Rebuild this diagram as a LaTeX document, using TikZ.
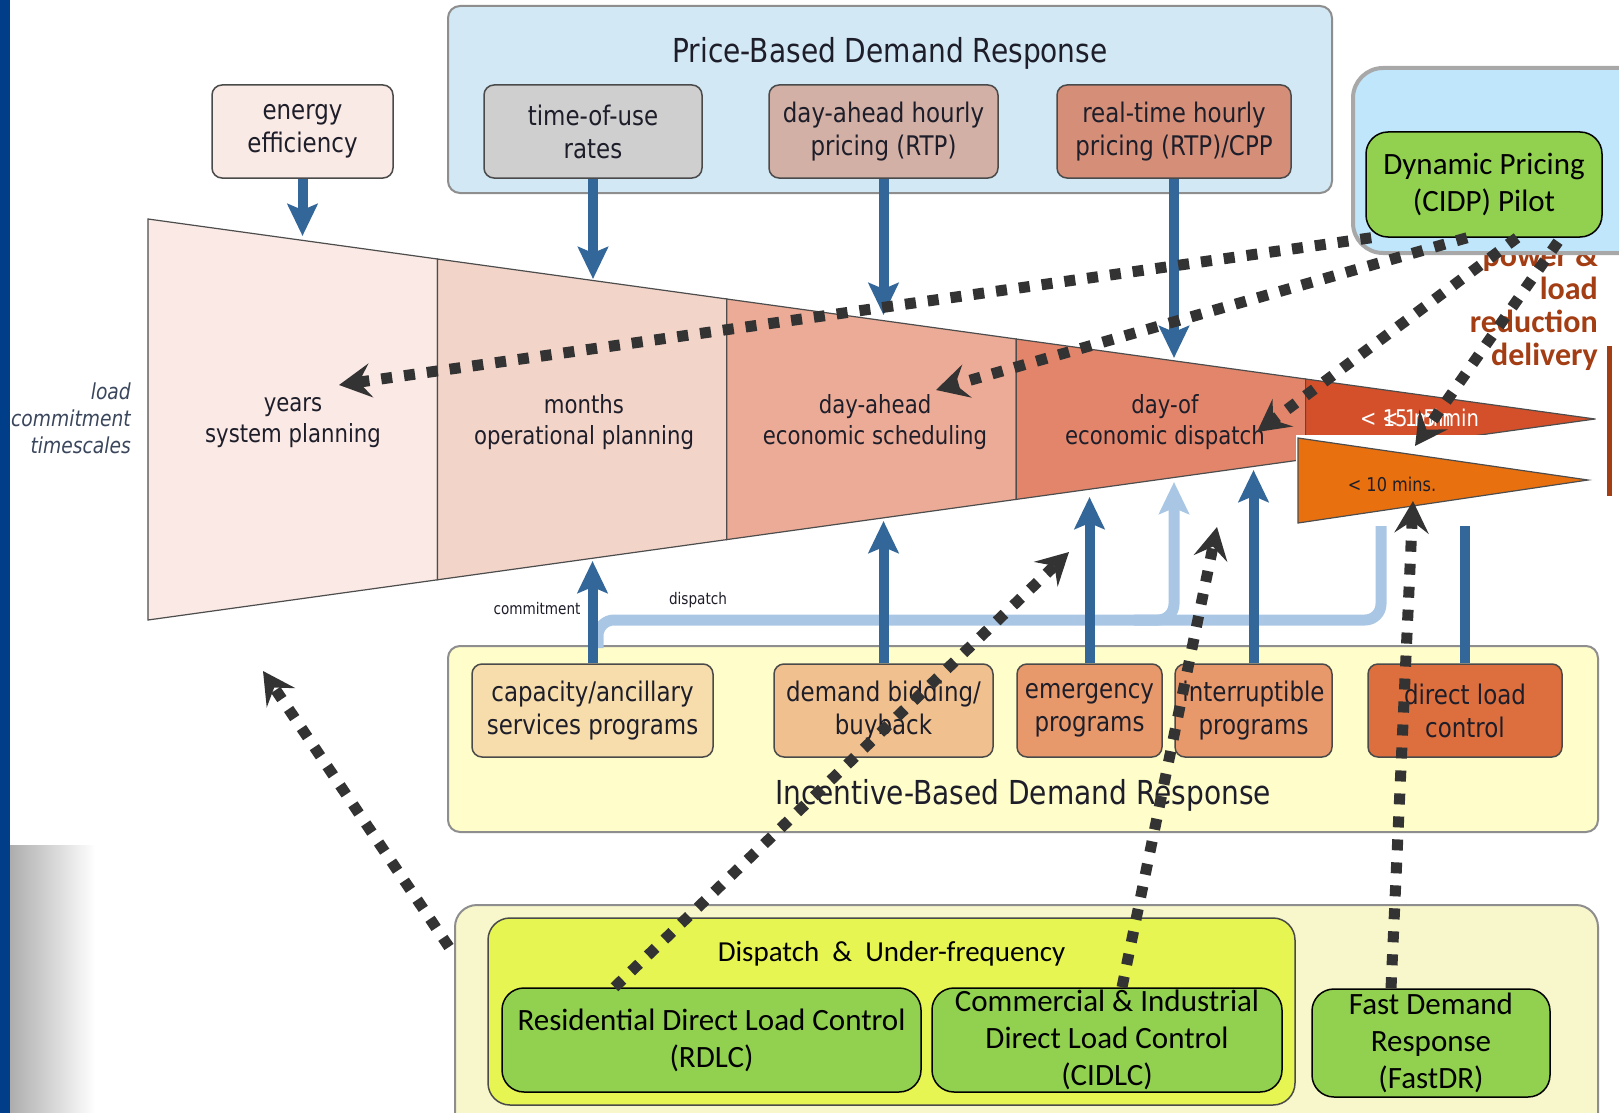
\documentclass[tikz,border=0pt]{standalone}
\usepackage{fontspec}
\setmainfont{DejaVu Sans}
\newfontfamily\tahoma[FakeStretch=0.85]{DejaVu Sans}
\newfontfamily\calib{Carlito}
\usepackage{tikz}
\usetikzlibrary{arrows.meta,positioning,calc}
\definecolor{slideblue}{HTML}{003E8A}
\definecolor{skyfill}{HTML}{D2E8F4}
\definecolor{panelline}{HTML}{8E8E8E}
\definecolor{boxline}{HTML}{4A4A4A}
\definecolor{inkdark}{HTML}{1E1E2A}
\definecolor{pinkpale}{HTML}{FAEAE5}
\definecolor{greybox}{HTML}{CFCFCF}
\definecolor{dustypink}{HTML}{D3B0A6}
\definecolor{terracotta}{HTML}{D58F79}
\definecolor{stageA}{HTML}{FAE9E4}
\definecolor{stageB}{HTML}{F3D4C9}
\definecolor{stageC}{HTML}{ECAB97}
\definecolor{stageD}{HTML}{E2856A}
\definecolor{stageE}{HTML}{D4502A}
\definecolor{flame}{HTML}{E9700F}
\definecolor{edgegrey}{HTML}{4D4D4D}
\definecolor{steelblue}{HTML}{336699}
\definecolor{paleblue}{HTML}{A9C7E5}
\definecolor{darkdot}{HTML}{333333}
\definecolor{rust}{HTML}{A33D14}
\definecolor{slate}{HTML}{3A465C}
\definecolor{dpfill}{HTML}{BFE6FB}
\definecolor{dpline}{HTML}{A8A8A8}
\definecolor{leafgreen}{HTML}{92D050}
\definecolor{creamfill}{HTML}{FFFDC9}
\definecolor{lemonpale}{HTML}{F8F7CC}
\definecolor{chartreuse}{HTML}{E6F552}
\definecolor{tanbox}{HTML}{F6DDAB}
\definecolor{apricot}{HTML}{F0C18E}
\definecolor{coral}{HTML}{E8996B}
\definecolor{burnt}{HTML}{DC6F3D}
\tikzstyle{feed} = [draw=steelblue, line width=10pt, -{Stealth[length=32pt,width=30pt,inset=6pt]}]
\tikzstyle{link} = [draw=darkdot, line width=11pt, dash pattern=on 11pt off 12pt, -{Stealth[length=32pt,width=34pt,inset=12pt]}]

\begin{document}
\begin{tikzpicture}
  [
    x=1pt, y=-1pt,
    every node/.style={inner sep=0pt, text=inkdark},
    panel/.style={draw=panelline, line width=2pt, rounded corners=12pt},
    prog/.style={draw=boxline, line width=1.5pt, rounded corners=10pt, minimum height=93pt, align=center, font=\tahoma\fontsize{27}{33}\selectfont},
    green box/.style={draw=black, line width=1.5pt, fill=leafgreen, rounded corners=22pt, align=center, text=black, font=\calib\fontsize{31}{37}\selectfont},
    stage/.style={align=center, font=\tahoma\fontsize{25}{31}\selectfont},
    headline/.style={font=\tahoma\fontsize{33}{38}\selectfont},
    dispatchline/.style={draw=paleblue, line width=11pt, rounded corners=16pt},
  ]
  \useasboundingbox (0,0) rectangle (1619,1113);
  \fill[white] (0,0) rectangle (1619,1113);
  \fill[slideblue] (0,0) rectangle (10,1113);
  \shade[left color=black!32, right color=white] (10,845) rectangle (95,1113);

  % price-based panel
  \node[panel, fill=skyfill, minimum width=884pt, minimum height=187pt] (pbdr) at (890,99.5) {};
  \node[headline] (pbtitle) at ([yshift=-48pt]pbdr.north) {Price-Based Demand Response};
  \node[prog, fill=pinkpale, minimum width=181pt] (ee) at (302.5,131.5) {energy\\efficiency};
  \node[prog, fill=greybox, minimum width=218pt] (tou) at (593,131.5) {time-of-use\\rates};
  \node[prog, fill=dustypink, minimum width=229pt, right=65.5pt of tou] (dahp) {day-ahead hourly\\pricing (RTP)};
  \node[prog, fill=terracotta, minimum width=234pt, right=57.5pt of dahp] (rtp) {real-time hourly\\pricing (RTP)/CPP};

  % timescale funnel
  \coordinate (fTL) at (148,219);
  \coordinate (fBL) at (148,620);
  \coordinate (fTip) at (1595,419);
  \foreach \c [count=\i from 0] in {stageA,stageB,stageC,stageD,stageE} {
    \pgfmathsetmacro\fa{\i*0.2}
    \pgfmathsetmacro\fb{(\i+1)*0.2}
    \filldraw[fill=\c, draw=edgegrey, line width=1.2pt]
      ($(fTL)!\fa!(fTip)$) -- ($(fTL)!\fb!(fTip)$) -- ($(fBL)!\fb!(fTip)$) -- ($(fBL)!\fa!(fTip)$) -- cycle;
  }
  \fill[white] (1296,435) rectangle (1594,527);
  \filldraw[fill=flame, draw=edgegrey, line width=1.2pt] (1298,438) -- (1588,480) -- (1298,523) -- cycle;

  \node[stage] (years) at (293,423) {years\\system planning};
  \node[stage] (months) at (584,422) {months\\operational planning};
  \node[stage] (dayahead) at (875,422) {day-ahead\\economic scheduling};
  \node[stage] (dayof) at (1165,422) {day-of\\economic dispatch};
  \node[font=\tahoma\fontsize{23}{27}\selectfont, text=white, anchor=west] (fifteen) at (1360,418) {< 15 min};
  \node[font=\tahoma\fontsize{23}{27}\selectfont, text=white, anchor=west] (fifteenb) at (1382,418) {< 1.5 min};
  \node[font=\tahoma\fontsize{19}{22}\selectfont] (tenmin) at (1392,484) {< 10 mins.};
  \node[font=\tahoma\itshape\fontsize{22}{27}\selectfont, text=slate, align=right, anchor=east] (timescales) at (131,418) {load\\commitment\\timescales};
  \node[font=\tahoma\fontsize{16}{19}\selectfont] (commitlbl) at (537,609) {commitment};
  \node[font=\tahoma\fontsize{16}{19}\selectfont] (dispatchlbl) at (698,600) {dispatch};

  % delivery note
  \node[font=\calib\bfseries\fontsize{32}{33}\selectfont, text=rust, align=right, anchor=east] (delivery) at (1598,307) {power \&\\load\\reduction\\delivery};
  \draw[rust, line width=5pt] (1609,346) -- (1609,496);

  % dynamic pricing pilot
  \node[draw=dpline, line width=4pt, fill=dpfill, rounded corners=30pt, minimum width=307pt, minimum height=185pt] (dpouter) at (1506.5,160.5) {};
  \node[green box, minimum width=236pt, minimum height=105pt] (dp) at (1484,184.5) {Dynamic Pricing\\(CIDP) Pilot};

  % price signals into the funnel
  \coordinate (tEE) at (0,236);
  \coordinate (tTOU) at (0,279);
  \coordinate (tDAHP) at (0,315);
  \coordinate (tRTP) at (0,358);
  \draw[feed] (ee) -- (ee |- tEE);
  \draw[feed] (tou) -- (tou |- tTOU);
  \draw[feed] (dahp) -- (dahp |- tDAHP);
  \draw[feed] (rtp) -- (rtp |- tRTP);

  % incentive-based panel
  \node[panel, fill=creamfill, minimum width=1150pt, minimum height=186pt] (ibdr) at (1023,739) {};
  \node[headline] (ibtitle) at ([yshift=38pt]ibdr.south) {Incentive-Based Demand Response};
  \node[prog, fill=tanbox, minimum width=241pt] (cap) at (592.5,710.5) {capacity/ancillary\\services programs};
  \node[prog, fill=apricot, minimum width=219pt, right=59.5pt of cap] (bid) {demand bidding/\\buyback};
  \node[prog, fill=coral, minimum width=145pt, right=22.5pt of bid] (emerg) {emergency\\programs};
  \node[prog, fill=coral, minimum width=157pt, right=11.5pt of emerg] (intr) {interruptible\\programs};
  \node[prog, fill=burnt, minimum width=194pt, right=34.5pt of intr] (dlc) {direct load\\control};

  % dispatch rail
  \coordinate (dspA) at (598,648);
  \coordinate (dspRail) at (0,620);
  \coordinate (dspEnd) at (1381,526);
  \coordinate (tBranch) at (1174,482);
  \draw[dispatchline] (dspA) -- (dspA |- dspRail) -- (dspEnd |- dspRail) -- (dspEnd);
  \draw[dispatchline, -{Stealth[length=32pt,width=30pt,inset=6pt]}] ($(tBranch |- dspRail)+(-40,0)$) -- (tBranch |- dspRail) -- (tBranch);

  % incentive signals into the funnel
  \coordinate (tCap) at (0,561);
  \coordinate (tBid) at (0,521);
  \coordinate (tEmerg) at (0,497);
  \coordinate (tIntr) at (0,470);
  \coordinate (tDlc) at (0,526);
  \draw[feed] (cap) -- (cap |- tCap);
  \draw[feed] (bid) -- (bid |- tBid);
  \draw[feed] (emerg) -- (emerg |- tEmerg);
  \draw[feed] (intr) -- (intr |- tIntr);
  \draw[feed, -] (dlc) -- (dlc |- tDlc);

  % field programmes
  \node[panel, fill=lemonpale, minimum width=1143pt, minimum height=240pt, rounded corners=22pt] (fieldbox) at (1026.5,1025) {};
  \node[draw=boxline, line width=1.5pt, fill=chartreuse, rounded corners=22pt, minimum width=807pt, minimum height=187pt] (dispuf) at (891.5,1011.5) {};
  \node[font=\calib\fontsize{29}{34}\selectfont, text=black] (disptitle) at ([yshift=-37pt]dispuf.north) {Dispatch~~\&~~Under-frequency};
  \node[green box, minimum width=419pt, minimum height=104pt] (rdlc) at (711.5,1040) {Residential Direct Load Control\\(RDLC)};
  \node[green box, minimum width=350pt, minimum height=104pt] (cidlc) at (1107,1040) {Commercial \& Industrial\\Direct Load Control\\(CIDLC)};
  \node[green box, minimum width=238pt, minimum height=108pt] (fastdr) at (1431,1043) {Fast Demand\\Response\\(FastDR)};

  % dotted links
  \coordinate (dYears) at (339,385);
  \coordinate (dDayAhead) at (936,390);
  \coordinate (dDayOf) at (1257,432);
  \coordinate (dMin15) at (1415,446);
  \coordinate (dLeft) at (263,671);
  \coordinate (dRes) at (1069,552);
  \coordinate (dCI) at (1217,527);
  \coordinate (dFast) at (1413,501);
  \draw[link] ([xshift=6pt]dp.south west) -- (dYears);
  \draw[link] ([xshift=-17pt]dp.south) -- (dDayAhead);
  \draw[link] ([xshift=33pt]dp.south) -- (dDayOf);
  \draw[link] ([xshift=74pt,yshift=-4pt]dp.south) -- (dMin15);
  \draw[link] ([xshift=-5pt,yshift=-43pt]fieldbox.north west) -- (dLeft);
  \draw[link] ([xshift=-97pt]rdlc.north) -- (dRes);
  \draw[link] ([xshift=15pt]cidlc.north) -- (dCI);
  \draw[link] ([xshift=-40pt]fastdr.north) -- (dFast);
\end{tikzpicture}
\end{document}
